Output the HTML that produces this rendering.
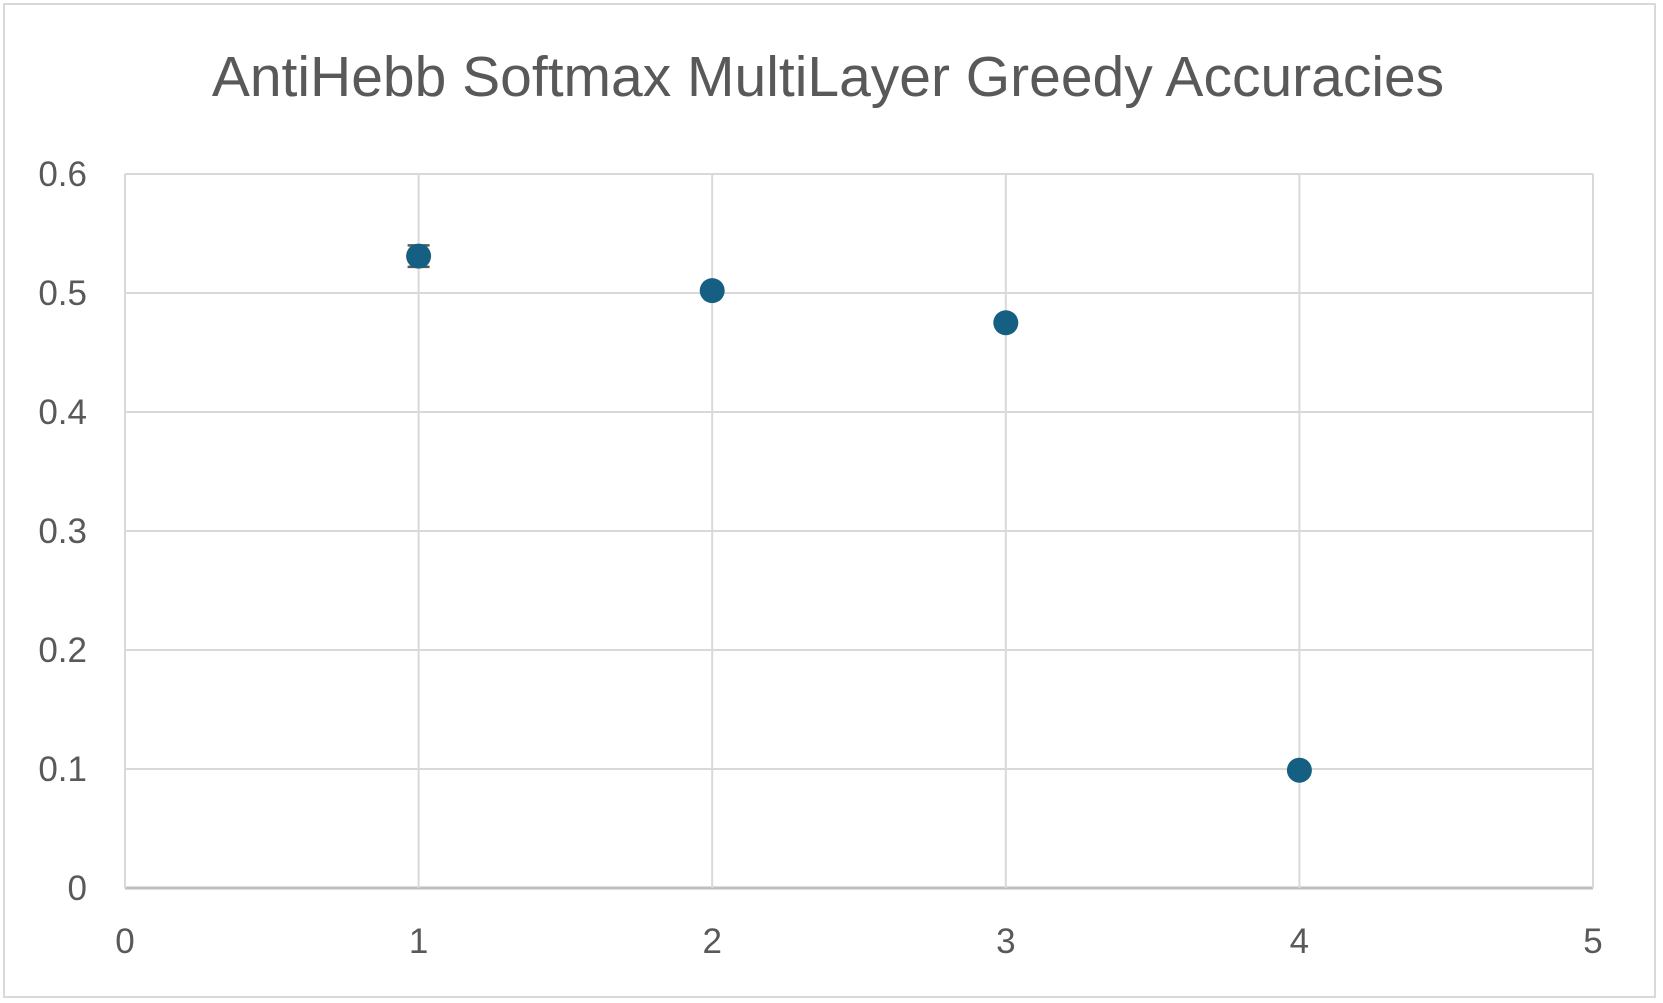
<!DOCTYPE html>
<html><head><meta charset="utf-8"><style>
html,body{margin:0;padding:0;background:#fff;}
svg{display:block;font-family:"Liberation Sans",sans-serif;}
</style></head><body>
<svg id="chart" width="1663" height="1003">
<rect x="4" y="4" width="1651" height="993" fill="#fff" stroke="#d9d9d9" stroke-width="2"/>
<text x="828" y="96" text-anchor="middle" font-size="57" fill="#595959">AntiHebb Softmax MultiLayer Greedy Accuracies</text>
<g id="grid"></g><g id="axes"></g><g id="marks"></g>
</svg>
<script>
const xVals=[1,2,3,4];
const yVals=[0.531,0.502,0.475,0.099];
const yErr=[0.009,0,0,0];
const xTicks=[0,1,2,3,4,5];
const yTicks=[0,0.1,0.2,0.3,0.4,0.5,0.6];
const L=125,R=1593,T=174,B=888;
const sx=v=>L+(v-0)/(5-0)*(R-L);
const sy=v=>B-(v-0)/(0.6-0)*(B-T);
const NS="http://www.w3.org/2000/svg";
function mk(tag,attrs,parent){const e=document.createElementNS(NS,tag);for(const k in attrs)e.setAttribute(k,attrs[k]);document.getElementById(parent).appendChild(e);return e;}
yTicks.forEach(t=>{
 const l=mk('line',{x1:L,x2:R,y1:sy(t),y2:sy(t),stroke:t===0?'#bfbfbf':'#d9d9d9','stroke-width':t===0?3:2},'grid');
 
 
 const tx=mk('text',{x:87,y:sy(t)+12,'text-anchor':'end','font-size':35,fill:'#595959'},'axes');
 tx.textContent=String(t);
 
 
});
xTicks.forEach(t=>{
 const l=mk('line',{x1:sx(t),x2:sx(t),y1:T,y2:B,stroke:'#d9d9d9','stroke-width':2},'grid');
 
 
 const tx=mk('text',{x:sx(t),y:953,'text-anchor':'middle','font-size':35,fill:'#595959'},'axes');
 tx.textContent=String(t);
 
 
});
xVals.forEach((x,i)=>{
 if(yErr[i]>0){
  const cx=sx(x),y1=sy(yVals[i]+yErr[i]),y2=sy(yVals[i]-yErr[i]);
  const e=mk('path',{d:`M${cx},${y1}V${y2}M${cx-11},${y1}H${cx+11}M${cx-11},${y2}H${cx+11}`,stroke:'#595959','stroke-width':2.5,fill:'none'},'marks');
  
  
 }
 const c=mk('circle',{cx:sx(x),cy:sy(yVals[i]),r:12.5,fill:'#156082'},'marks');
 
 
});
</script>
</body></html>
